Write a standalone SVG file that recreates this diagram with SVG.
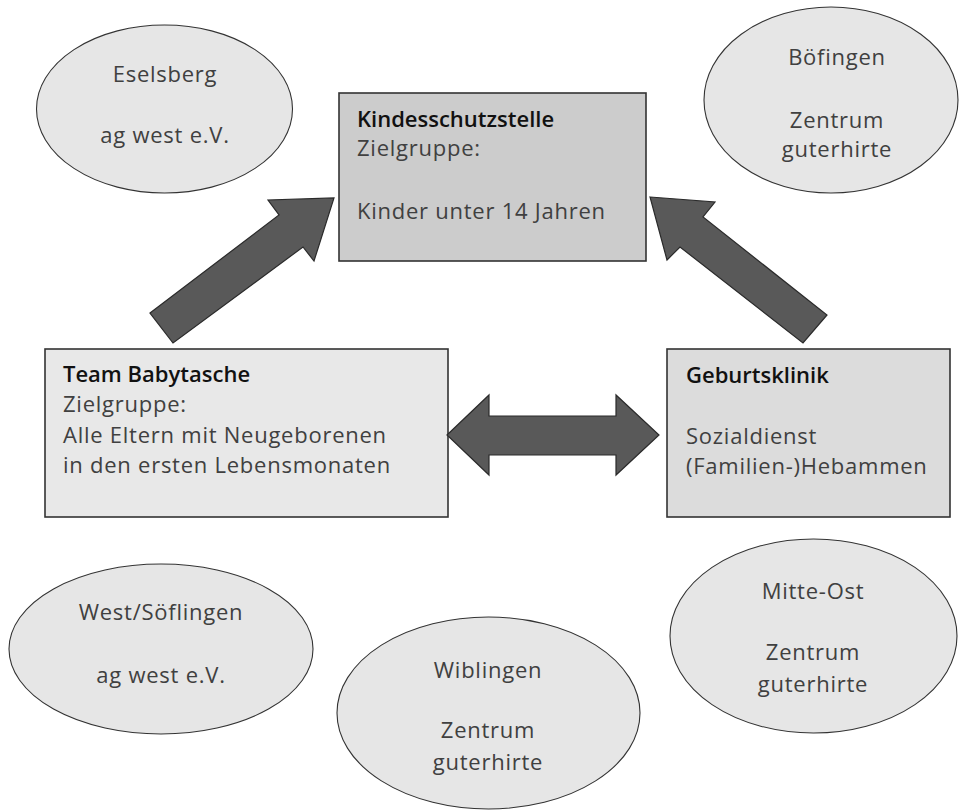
<svg xmlns="http://www.w3.org/2000/svg" width="960" height="811" viewBox="0 0 960 811">
<style>
text{font-family:"Open Sans","Noto Sans","DejaVu Sans",sans-serif;font-size:22px;letter-spacing:0.75px;fill:#404040}
.b{font-weight:600;letter-spacing:0;fill:#111}
.c{text-anchor:middle}
.ell{fill:#e6e6e6;stroke:#333;stroke-width:1.1}
.box{stroke:#333;stroke-width:1.6}
.arr{fill:#595959;stroke:#2a2a2a;stroke-width:1.2;stroke-linejoin:miter}
</style>
<rect width="960" height="811" fill="#fff"/>
<g id="eselsberg">
<ellipse class="ell" cx="164.5" cy="109" rx="128" ry="84"/>
<text class="c" x="165" y="82">Eselsberg</text>
<text class="c" x="165" y="143">ag west e.V.</text>
</g>
<g id="boefingen">
<ellipse class="ell" cx="831" cy="100" rx="127" ry="93"/>
<text class="c" x="837" y="65">Böfingen</text>
<text class="c" x="837" y="128">Zentrum</text>
<text class="c" x="837" y="157">guterhirte</text>
</g>
<g id="kindesschutzstelle">
<rect class="box" x="339" y="93" width="307" height="168" fill="#cccccc"/>
<text class="b" x="357" y="127">Kindesschutzstelle</text>
<text x="357" y="156">Zielgruppe:</text>
<text x="357" y="219">Kinder unter 14 Jahren</text>
</g>
<g id="babytasche">
<rect class="box" x="45" y="349" width="403" height="168" fill="#e8e8e8"/>
<text class="b" x="63" y="382">Team Babytasche</text>
<text x="63" y="412">Zielgruppe:</text>
<text x="63" y="443">Alle Eltern mit Neugeborenen</text>
<text x="63" y="473">in den ersten Lebensmonaten</text>
</g>
<g id="geburtsklinik">
<rect class="box" x="667" y="349" width="283" height="168" fill="#dcdcdc"/>
<text class="b" x="686" y="383">Geburtsklinik</text>
<text x="686" y="444">Sozialdienst</text>
<text x="686" y="474">(Familien-)Hebammen</text>
</g>
<g id="west-soeflingen">
<ellipse class="ell" cx="161" cy="649" rx="152" ry="85"/>
<text class="c" x="161" y="620">West/Söflingen</text>
<text class="c" x="161" y="683">ag west e.V.</text>
</g>
<g id="wiblingen">
<ellipse class="ell" cx="488.5" cy="713" rx="151.5" ry="96"/>
<text class="c" x="488" y="678">Wiblingen</text>
<text class="c" x="488" y="738">Zentrum</text>
<text class="c" x="488" y="770">guterhirte</text>
</g>
<g id="mitte-ost">
<ellipse class="ell" cx="813.5" cy="636" rx="143.5" ry="97"/>
<text class="c" x="813" y="599">Mitte-Ost</text>
<text class="c" x="813" y="660">Zentrum</text>
<text class="c" x="813" y="692">guterhirte</text>
</g>
<g id="connectors">
<polygon class="arr" points="150,313 279,215 268,200 334,198 314,261 303,247 173,343"/>
<polygon class="arr" points="650,197 715,202 703,217 827,315 803,343 680,247 667,260"/>
<polygon class="arr" points="447,435 489,395 489,416 616,416 616,395 659,435 616,475 616,455 489,455 489,475"/>
</g>
</svg>
